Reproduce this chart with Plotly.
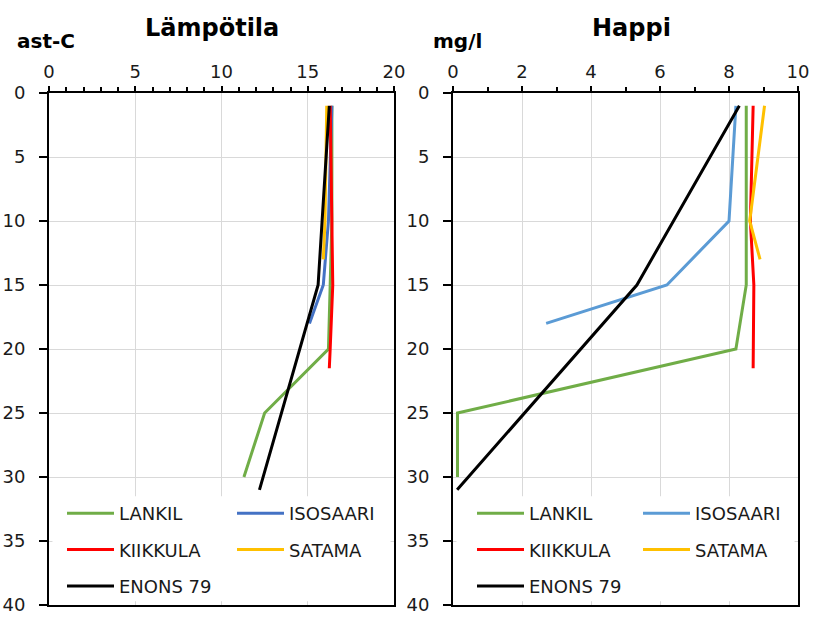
import plotly.graph_objects as go

# ---- data ----
series_names = ["LANKIL", "ISOSAARI", "KIIKKULA", "SATAMA", "ENONS 79"]

# Lämpötila (temperature, ast-C) vs depth (m)
lankil_depth = [1, 10, 15, 20, 25, 30]
lankil_temp = [16.4, 16.4, 16.3, 16.2, 12.5, 11.3]
isosaari_depth = [1, 10, 15, 18]
isosaari_temp = [16.4, 16.2, 15.9, 15.1]
kiikkula_depth = [1, 10, 15, 20, 21.5]
kiikkula_temp = [16.3, 16.4, 16.45, 16.3, 16.25]
satama_depth = [1, 10, 13]
satama_temp = [16.1, 16.0, 15.9]
enons_depth = [1, 15, 31]
enons_temp = [16.25, 15.6, 12.2]

# Happi (oxygen, mg/l) vs depth (m)
lankil_o2 = [8.5, 8.5, 8.5, 8.2, 0.13, 0.13]
isosaari_o2 = [8.2, 8.0, 6.2, 2.7]
kiikkula_o2 = [8.7, 8.62, 8.72, 8.7, 8.7]
satama_o2 = [9.03, 8.6, 8.9]
enons_o2 = [8.3, 5.33, 0.12]

temp_ticks = [0, 5, 10, 15, 20]
o2_ticks = [0, 2, 4, 6, 8, 10]
depth_ticks = [0, 5, 10, 15, 20, 25, 30, 35, 40]

colors_left = ["#70AD47", "#4472C4", "#FF0000", "#FFC000", "#000000"]
colors_right = ["#70AD47", "#5B9BD5", "#FF0000", "#FFC000", "#000000"]

FONT = "DejaVu Sans"

depths = [lankil_depth, isosaari_depth, kiikkula_depth, satama_depth, enons_depth]
temps = [lankil_temp, isosaari_temp, kiikkula_temp, satama_temp, enons_temp]
o2s = [lankil_o2, isosaari_o2, kiikkula_o2, satama_o2, enons_o2]

# legend columns: col1 (LANKIL, KIIKKULA, ENONS 79), col2 (ISOSAARI, SATAMA)
left_leg = ["legend", "legend2", "legend", "legend2", "legend"]
right_leg = ["legend3", "legend4", "legend3", "legend4", "legend3"]

fig = go.Figure()
for i, name in enumerate(series_names):
    fig.add_trace(go.Scatter(
        x=temps[i], y=depths[i], mode="lines", name=name,
        line=dict(color=colors_left[i], width=3),
        xaxis="x", yaxis="y", legend=left_leg[i],
        legendgroup="L" + name, hoverinfo="skip"))
for i, name in enumerate(series_names):
    fig.add_trace(go.Scatter(
        x=o2s[i], y=depths[i], mode="lines", name=name,
        line=dict(color=colors_right[i], width=3),
        xaxis="x2", yaxis="y2", legend=right_leg[i],
        legendgroup="R" + name, hoverinfo="skip"))

W, H = 814, 617
ML, MR, MT, MB = 49, 16, 93, 12
PW = W - ML - MR
PH = H - MT - MB


def px(xp):
    return (xp - ML) / PW


def py(yp):
    return (H - MB - yp) / PH


grid_col = "#d9d9d9"
tick_font = dict(family=FONT, size=18, color="#1a1a1a")

xcommon = dict(side="top", showline=True, linecolor="black", linewidth=2,
               mirror=True, ticks="outside", ticklen=5, tickwidth=1.5,
               tickcolor="black", showgrid=True, gridcolor=grid_col,
               gridwidth=1.3, zeroline=False, tickfont=tick_font,
               ticklabelstandoff=1, automargin=False)
ycommon = dict(range=[40, 0], tickvals=depth_ticks, showline=True,
               linecolor="black", linewidth=2, mirror=True, ticks="outside",
               ticklen=8, tickwidth=1.5, tickcolor="black", showgrid=True,
               gridcolor=grid_col, gridwidth=1.3, zeroline=False,
               tickfont=tick_font, ticklabelstandoff=10, automargin=False)

left_dom = [0, px(394)]
right_dom = [px(453), 1]

fig.update_layout(
    width=W, height=H,
    margin=dict(l=ML, r=MR, t=MT, b=MB, autoexpand=False),
    paper_bgcolor="white", plot_bgcolor="white",
    font=dict(family=FONT, size=18, color="#1a1a1a"),
    xaxis=dict(domain=left_dom, anchor="y", range=[0, 20],
               tickvals=temp_ticks,
               minor=dict(dtick=1, ticks="outside", ticklen=4,
                          tickcolor="black", tickwidth=1.5, showgrid=False),
               **xcommon),
    yaxis=dict(domain=[0, 1], anchor="x", **ycommon),
    xaxis2=dict(domain=right_dom, anchor="y2", range=[0, 10],
                tickvals=o2_ticks,
                minor=dict(dtick=1, ticks="outside", ticklen=4,
                           tickcolor="black", tickwidth=1.5, showgrid=False),
                **xcommon),
    yaxis2=dict(domain=[0, 1], anchor="x2", **ycommon),
    showlegend=True,
)

leg_common = dict(orientation="v", xanchor="left", yanchor="top",
                  bgcolor="rgba(0,0,0,0)", borderwidth=0,
                  font=dict(family=FONT, size=18, color="#1a1a1a"),
                  itemwidth=47, traceorder="grouped", tracegroupgap=10,
                  itemclick=False, itemdoubleclick=False)
leg_top = py(495)
fig.update_layout(
    legend=dict(x=px(62), y=leg_top, **leg_common),
    legend2=dict(x=px(232), y=leg_top, **leg_common),
    legend3=dict(x=px(472), y=leg_top, **leg_common),
    legend4=dict(x=px(638), y=leg_top, **leg_common),
)

# white area behind the legends (hides gridlines, above grid, below traces)
fig.add_shape(type="rect", xref="x", yref="y", x0=0.2, x1=19.8, y0=31.5,
              y1=39.7, fillcolor="white", line=dict(width=0), layer="between")
fig.add_shape(type="rect", xref="x2", yref="y2", x0=0.1, x1=9.9, y0=31.5,
              y1=39.7, fillcolor="white", line=dict(width=0), layer="between")

title_font = dict(family=FONT, size=24, color="black")
unit_font = dict(family=FONT, size=20, color="black")
fig.add_annotation(text="<b>Lämpötila</b>", x=px(212), y=py(28), xref="paper",
                   yref="paper", showarrow=False, font=title_font,
                   xanchor="center", yanchor="middle")
fig.add_annotation(text="<b>Happi</b>", x=px(631), y=py(28), xref="paper",
                   yref="paper", showarrow=False, font=title_font,
                   xanchor="center", yanchor="middle")
fig.add_annotation(text="<b>ast-C</b>", x=px(15), y=py(41), xref="paper",
                   yref="paper", showarrow=False, font=unit_font,
                   xanchor="left", yanchor="middle")
fig.add_annotation(text="<b>mg/l</b>", x=px(431), y=py(41), xref="paper",
                   yref="paper", showarrow=False, font=unit_font,
                   xanchor="left", yanchor="middle")

fig.write_html("out.html")
